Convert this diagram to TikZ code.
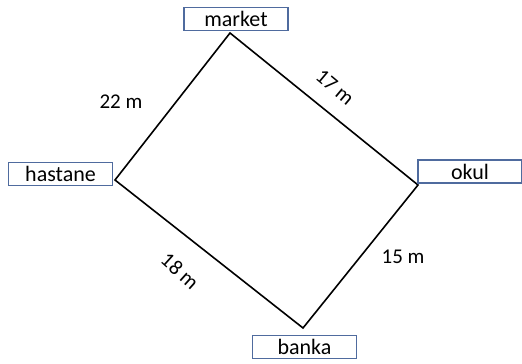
\documentclass[tikz,border=0pt]{standalone}
\usepackage{fontspec}
\setmainfont{Carlito}
\definecolor{boxblue}{rgb}{0.31,0.42,0.62}
\begin{document}
\begin{tikzpicture}[
			x=0.5pt, y=-0.5pt,
			place/.style={
				draw=boxblue, line width=0.7pt, fill=white,
				minimum width=52pt, minimum height=11.5pt,
				inner sep=0pt, font=\fontsize{11}{11}\selectfont
			},
			side/.style={draw, line width=0.8pt},
			dist node/.style={font=\fontsize{10.5}{10.5}\selectfont}
			]
			\useasboundingbox (0,0) rectangle (522,363);
			
			\coordinate (vm) at (230,33);
			\coordinate (vh) at (115,180);
			\coordinate (vo) at (418,185);
			\coordinate (vb) at (303,328);
			
			\draw [side] (vm) -- (vo) -- (vb) -- (vh) -- cycle;
			
			\node[place] (market) at (236,19) {market};
			\node[place] (hastane) at (60.5,174) {hastane};
			\node[place] (okul) at (470,171.5) {okul};
			\node[place] (banka) at (304.5,347) {banka};
			
			\node[dist node] (d1) at (121,102) {22 m};
			\node[dist node, rotate=-40] (d2) at (335,87) {17 m};
			\node[dist node, rotate=-42] (d3) at (180,271) {18 m};
			\node[dist node] (d4) at (403,257) {15 m};
			
		\end{tikzpicture}
\end{document}
